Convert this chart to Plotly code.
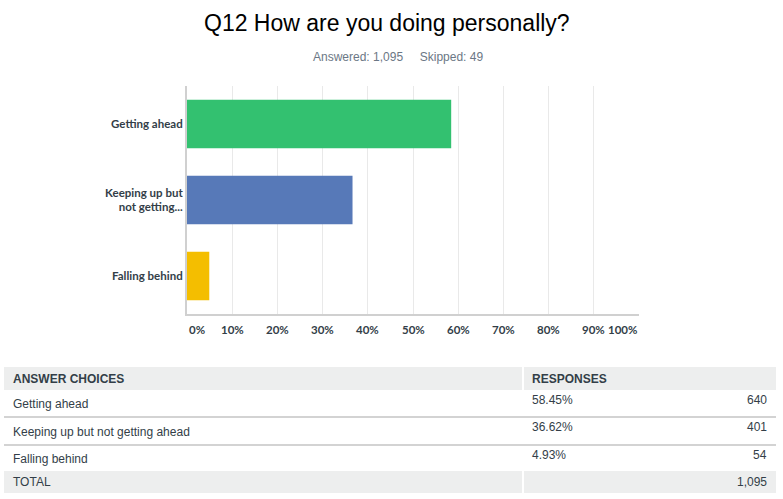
import plotly.graph_objects as go

# ---- data ----
categories = ["Getting ahead", "Keeping up but not getting ahead", "Falling behind"]
axis_labels = ["Getting ahead", "Keeping up but<br>not getting...", "Falling behind"]
percents = [58.45, 36.62, 4.93]
counts = [640, 401, 54]
total_count = 1095
answered = 1095
skipped = 49
bar_colors = ["#33c170", "#5779b8", "#f4be00"]
x_ticks = [0, 10, 20, 30, 40, 50, 60, 70, 80, 90, 100]

W, H = 783, 499


def px(x):
    return x / W


def py(y):
    return 1 - y / H


fig = go.Figure()
fig.add_trace(go.Bar(
    y=axis_labels, x=percents, orientation="h",
    marker=dict(color=bar_colors, line=dict(width=0)),
    hoverinfo="skip",
))

TXT = "#333e48"
TICKFONT = dict(family="Lato", size=11.5, color=TXT, weight="bold")

annotations = []
# title + subtitle
annotations.append(dict(text="Q12 How are you doing personally?", x=px(387), y=py(23),
                        xref="paper", yref="paper", showarrow=False, xanchor="center", yanchor="middle",
                        font=dict(family="Liberation Sans", size=23, color="#000000")))
annotations.append(dict(text=f"Answered: {answered:,}&nbsp;&nbsp;&nbsp;&nbsp;&nbsp;Skipped: {skipped}",
                        x=px(398), y=py(57), xref="paper", yref="paper", showarrow=False,
                        xanchor="center", yanchor="middle",
                        font=dict(family="Liberation Sans", size=12, color="#6b7785")))
# x tick labels
for t in x_ticks:
    anchor = "left" if t == x_ticks[0] else ("right" if t == x_ticks[-1] else "center")
    annotations.append(dict(text=f"{t}%", x=t, y=py(329), xref="x", yref="paper", showarrow=False,
                            xanchor=anchor, yanchor="middle", font=TICKFONT))

# ---- table ----
shapes = []
TL, TR, TSPLIT = 4, 776, 523
GRAY = "#edeeee"
header_top, header_bot = 367, 390
row_bounds = [(391, 416), (418, 444), (446, 470)]
total_top, total_bot = 471, 493


def gray_band(y0, y1):
    shapes.append(dict(type="rect", xref="paper", yref="paper", x0=px(TL), x1=px(TSPLIT - 1),
                       y0=py(y1), y1=py(y0), fillcolor=GRAY, line=dict(width=0), layer="below"))
    shapes.append(dict(type="rect", xref="paper", yref="paper", x0=px(TSPLIT + 1), x1=px(TR),
                       y0=py(y1), y1=py(y0), fillcolor=GRAY, line=dict(width=0), layer="below"))


gray_band(header_top, header_bot)
gray_band(total_top, total_bot)
for i in range(len(categories) - 1):
    ysep = (row_bounds[i][1] + row_bounds[i + 1][0]) / 2
    shapes.append(dict(type="line", xref="paper", yref="paper", x0=px(TL), x1=px(TR),
                       y0=py(ysep), y1=py(ysep), line=dict(color="#d3d3d3", width=2)))

TFONT = dict(family="Liberation Sans", size=12, color=TXT)
TFONT_B = dict(family="Liberation Sans", size=12, color=TXT, weight="bold")


def txt(s, x, y, anchor, font):
    annotations.append(dict(text=s, x=px(x), y=py(y), xref="paper", yref="paper", showarrow=False,
                            xanchor=anchor, yanchor="middle", font=font))


L_X, P_X, C_X = 11, 530, 769
hy = (header_top + header_bot) / 2
txt("ANSWER CHOICES", L_X, hy, "left", TFONT_B)
txt("RESPONSES", P_X, hy, "left", TFONT_B)
for i, (cat, p, c) in enumerate(zip(categories, percents, counts)):
    y0, y1 = row_bounds[i]
    txt(cat, L_X, (y0 + y1) / 2 + 0.5, "left", TFONT)
    txt(f"{p:.2f}%", P_X, y0 + 8.5, "left", TFONT)
    txt(f"{c:,}", C_X, y0 + 8.5, "right", TFONT)
ty = (total_top + total_bot) / 2
txt("TOTAL", L_X, ty, "left", TFONT)
txt(f"{total_count:,}", C_X, ty, "right", TFONT)

fig.update_layout(
    width=W, height=H, margin=dict(l=0, r=0, t=0, b=0),
    paper_bgcolor="white", plot_bgcolor="white",
    showlegend=False, bargap=0.36,
    xaxis=dict(domain=[px(187), px(639)], range=[0, 100], tickvals=x_ticks, showticklabels=False,
               showgrid=True, gridcolor="#e9e9e9", gridwidth=1, zeroline=False,
               showline=True, linecolor="#d0d0d0", linewidth=2, fixedrange=True),
    yaxis=dict(domain=[py(314), py(86)], autorange="reversed", showgrid=False, zeroline=False,
               showline=True, linecolor="#d0d0d0", linewidth=2, ticks="", ticklabelstandoff=0,
               tickfont=TICKFONT, fixedrange=True),
    shapes=shapes, annotations=annotations,
)

fig.write_html("out.html")
